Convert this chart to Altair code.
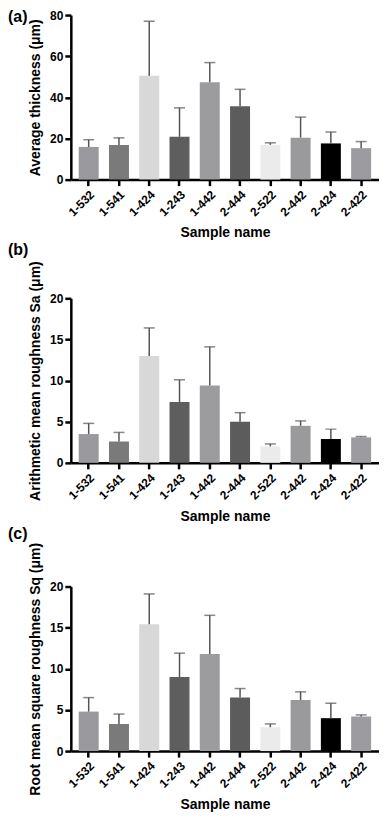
import altair as alt
import pandas as pd

samples = ["1-532", "1-541", "1-424", "1-243", "1-442", "2-444", "2-522", "2-442", "2-424", "2-422"]
colors = ["#9a9a9e", "#7a7a7a", "#d8d8d8", "#5e5e5e", "#9c9c9f", "#5c5c5c", "#ebebeb", "#9a9a9d", "#000000", "#9c9ca0"]

thick_mean = [15.9, 16.8, 50.5, 20.8, 47.3, 35.7, 16.9, 20.4, 17.6, 15.3]
thick_sd = [3.5, 3.5, 26.5, 14.1, 9.6, 8.2, 1.0, 10.0, 5.6, 3.2]

sa_mean = [3.5, 2.6, 13.0, 7.4, 9.4, 5.0, 2.0, 4.5, 2.9, 3.1]
sa_sd = [1.3, 1.1, 3.4, 2.7, 4.7, 1.1, 0.3, 0.6, 1.2, 0.1]

sq_mean = [4.8, 3.3, 15.4, 9.0, 11.8, 6.5, 2.9, 6.2, 4.0, 4.2]
sq_sd = [1.7, 1.2, 3.7, 2.9, 4.7, 1.1, 0.4, 1.0, 1.8, 0.2]

FONT = "Arial, Liberation Sans, sans-serif"
W = 309
H = 165


def panel(mean, sd, ymax, minor, major, ytitle, tag, tag_y):
    df = pd.DataFrame({
        "sample": samples,
        "mean": mean,
        "hi": [m + s for m, s in zip(mean, sd)],
        "color": colors,
    })
    vals = []
    v = 0.0
    while v <= ymax + 1e-9:
        vals.append(round(v, 3))
        v += minor
    x = alt.X("sample:N", sort=samples,
              scale=alt.Scale(paddingInner=0.34, paddingOuter=0.26),
              axis=alt.Axis(title="Sample name", labelAngle=-45, labelPadding=3,
                            titlePadding=8))
    y = alt.Y("mean:Q", scale=alt.Scale(domain=[0, ymax], nice=False, zero=True),
              axis=alt.Axis(title=ytitle, values=vals,
                            labelExpr=f"datum.value % {major} == 0 ? datum.label : ''",
                            labelPadding=2, titlePadding=7))
    base = alt.Chart(df)
    bars = base.mark_bar().encode(x=x, y=y, color=alt.Color("color:N", scale=None))
    rule = base.mark_rule(color="#555555", strokeWidth=1.5).encode(
        x=alt.X("sample:N", sort=samples), y="mean:Q", y2="hi:Q")
    cap = base.mark_tick(color="#555555", thickness=1.5, size=11).encode(
        x=alt.X("sample:N", sort=samples), y="hi:Q")
    tagdf = pd.DataFrame({"t": [tag]})
    tagtext = alt.Chart(tagdf).mark_text(
        font=FONT, fontSize=16, fontWeight="bold", align="left", baseline="top",
        color="black").encode(x=alt.value(-63), y=alt.value(tag_y), text="t:N")
    return alt.layer(bars, rule, cap, tagtext).properties(width=W, height=H)


pa = panel(thick_mean, thick_sd, 80, 10, 20, "Average thickness (μm)", "(a)", -6)
pb = panel(sa_mean, sa_sd, 20, 2.5, 5, "Arithmetic mean roughness Sa (μm)", "(b)", -56)
pc = panel(sq_mean, sq_sd, 20, 2.5, 5, "Root mean square roughness Sq (μm)", "(c)", -61)

chart = alt.vconcat(pa, pb, pc, spacing=2).configure_view(stroke=None).configure_axis(
    grid=False,
    domainColor="black", domainWidth=2.5,
    tickColor="black", tickWidth=2.5, tickSize=6,
    labelFont=FONT, labelFontSize=12, labelFontWeight="bold", labelColor="black",
    titleFont=FONT, titleFontSize=14, titleFontWeight="bold", titleColor="black",
).properties(padding=0, background="white")

chart.save("out.html", embed_options={"renderer": "svg", "actions": False})
